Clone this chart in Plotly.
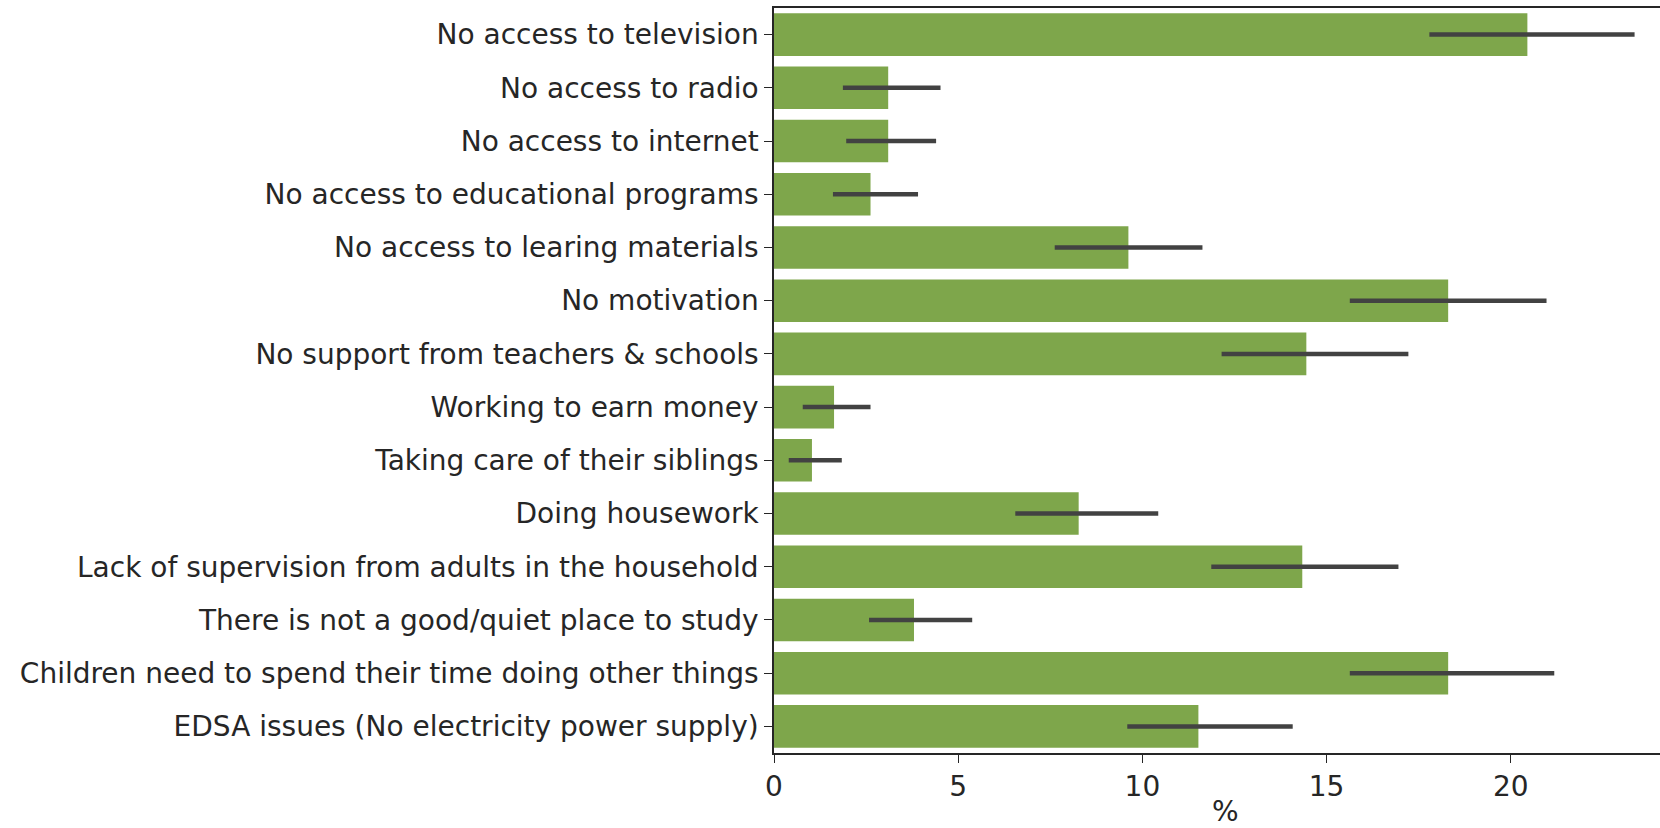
import plotly.graph_objects as go

categories = [
    "No access to television",
    "No access to radio",
    "No access to internet",
    "No access to educational programs",
    "No access to learing materials",
    "No motivation",
    "No support from teachers & schools",
    "Working to earn money",
    "Taking care of their siblings",
    "Doing housework",
    "Lack of supervision from adults in the household",
    "There is not a good/quiet place to study",
    "Children need to spend their time doing other things",
    "EDSA issues (No electricity power supply)",
]
values = [20.45, 3.1, 3.1, 2.62, 9.62, 18.3, 14.45, 1.63, 1.03, 8.27, 14.34, 3.8, 18.3, 11.52]
ci_low = [17.79, 1.87, 1.96, 1.60, 7.62, 15.63, 12.15, 0.78, 0.40, 6.55, 11.87, 2.58, 15.63, 9.59]
ci_high = [23.36, 4.52, 4.40, 3.91, 11.63, 20.97, 17.22, 2.62, 1.84, 10.43, 16.95, 5.38, 21.18, 14.08]
x_ticks = [0, 5, 10, 15, 20]

err_plus = [h - v for h, v in zip(ci_high, values)]
err_minus = [v - l for l, v in zip(ci_low, values)]

fig = go.Figure()
fig.add_trace(go.Bar(
    y=categories, x=values, orientation="h",
    marker=dict(color="#7ea64b", line=dict(width=0)),
    width=0.8,
    error_x=dict(type="data", symmetric=False, array=err_plus, arrayminus=err_minus,
                 color="#424242", thickness=4.5, width=0),
))

font = "DejaVu Sans"
fs = 28
txt = "#262626"
fig.update_layout(
    width=1660, height=828,
    margin=dict(l=774, r=0, t=8, b=75, autoexpand=False),
    paper_bgcolor="white", plot_bgcolor="white",
    showlegend=False,
    font=dict(family=font, size=fs, color=txt),
    xaxis=dict(
        range=[0, 24.05], tickvals=x_ticks, ticks="outside", ticklen=8, tickwidth=1.2,
        tickcolor=txt, showline=True, linecolor=txt, linewidth=1.5,
        mirror=True, showgrid=False, zeroline=False, automargin=False,
        tickfont=dict(size=fs, family=font, color=txt),
    ),
    yaxis=dict(
        range=[13.5, -0.5], type="category", ticks="outside", ticklen=8, tickwidth=1.2,
        tickcolor=txt, showline=True, linecolor=txt, linewidth=1.5,
        showgrid=False, zeroline=False, automargin=False,
        tickfont=dict(size=fs, family=font, color=txt),
    ),
    annotations=[dict(text="%", xref="x", yref="paper", x=12.25, y=-0.079,
                      xanchor="center", yanchor="middle", showarrow=False,
                      font=dict(size=fs, family=font, color=txt))],
)
fig.write_html("out.html", config={"displayModeBar": False},
               post_script="document.body.style.margin='0';document.body.style.overflow='hidden';")
